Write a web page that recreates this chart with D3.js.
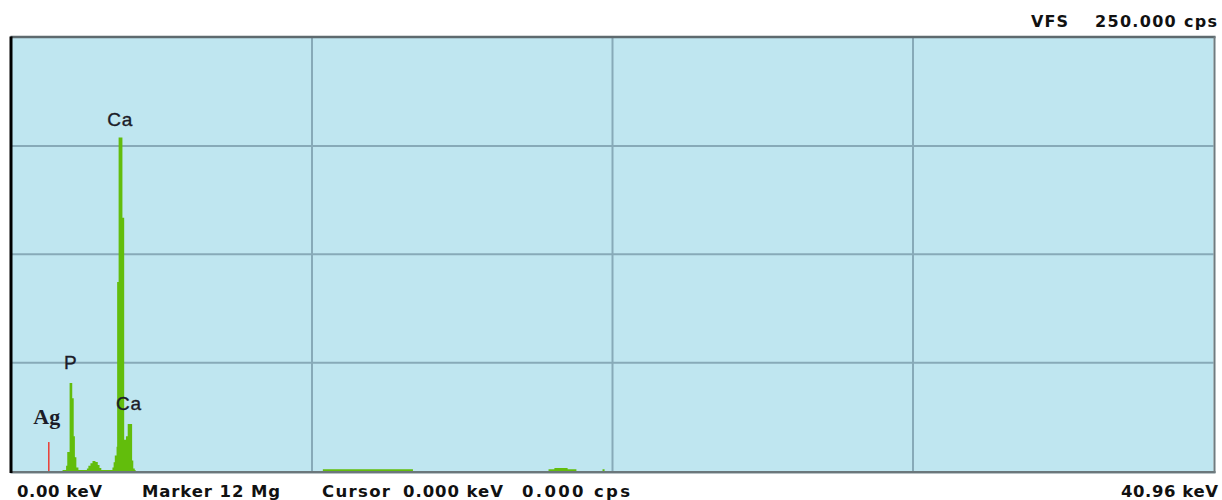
<!DOCTYPE html>
<html>
<head>
<meta charset="utf-8">
<script src="https://cdn.jsdelivr.net/npm/d3@7"></script>
<style>
  html, body { margin: 0; padding: 0; background: #ffffff; }
  svg { display: block; }
</style>
</head>
<body>
<svg id="chart" width="1222" height="500"></svg>
<script>
// EDS spectrum: energy (keV) vs count rate (cps), drawn as a stepped fill
const spectrumEnergy = [
  1.70, 1.74, 1.86, 1.90, 1.98, 2.07, 2.12, 2.16, 2.21, 2.28,
  2.57, 2.62, 2.69, 2.76, 2.86, 2.94, 3.00, 3.06,
  3.44, 3.48, 3.52, 3.58, 3.60, 3.65, 3.78, 3.84, 3.90, 3.96, 4.11, 4.15, 4.20, 4.23,
  10.61, 13.68,
  18.30, 18.50, 18.95, 19.25,
  20.14, 20.21
];
const spectrumCps = [
  0, 0.6, 3, 11, 50.8, 42, 20, 8, 2, 0.6,
  1.5, 3, 4.5, 5.8, 5.2, 3.5, 1.8, 0.6,
  2, 5, 9, 14, 109, 192.3, 146, 18, 20, 27.1, 6, 1.5, 0.6, 0,
  1.0, 0,
  1.0, 1.8, 1.0, 0,
  1.0, 0
];

// Silver marker line
const markerEnergy = [1.27];
const markerCps = [16.7];

// Element labels placed above their lines
const labelText = ["Ca", "P", "Ca", "Ag"];
const labelEnergy = [3.70, 2.02, 4.00, 1.20];
const labelCps = [199, 59, 35, 27];

// Scale extents and grid divisions
const energyMax = 40.96;
const cpsMax = 250;
const gridKeV = [10.24, 20.48, 30.72];
const gridCps = [62.5, 125, 187.5];

// Readout texts
const readouts = [
  { text: "0.00 keV",     x: 17,  len: 85 },
  { text: "Marker 12 Mg", x: 142, len: 138 },
  { text: "Cursor",       x: 322, len: 68 },
  { text: "0.000 keV",    x: 403, len: 100 },
  { text: "0.000 cps",    x: 522, len: 108 }
];

const svg = d3.select("#chart");
const plotLeft = 11.5, plotRight = 1213.5, plotTop = 37.5, plotBottom = 471;

const x = d3.scaleLinear().domain([0, energyMax]).range([plotLeft, plotRight]);
const y = d3.scaleLinear().domain([0, cpsMax]).range([plotBottom, plotTop]);

// Plot background
svg.append("rect")
  .attr("x", plotLeft).attr("y", plotTop)
  .attr("width", plotRight - plotLeft).attr("height", plotBottom - plotTop)
  .attr("fill", "#bfe6f0");

// Grid lines
svg.append("g").selectAll("line").data(gridKeV).join("line")
  .attr("x1", d => x(d)).attr("x2", d => x(d))
  .attr("y1", plotTop).attr("y2", plotBottom)
  .attr("stroke", "#87aab8").attr("stroke-width", 2);
svg.append("g").selectAll("line").data(gridCps).join("line")
  .attr("x1", plotLeft).attr("x2", plotRight)
  .attr("y1", d => y(d)).attr("y2", d => y(d))
  .attr("stroke", "#87aab8").attr("stroke-width", 2);

// Spectrum fill
const points = spectrumEnergy.map((e, i) => ({ e, c: spectrumCps[i] }));
const area = d3.area()
  .x(d => x(d.e))
  .y0(y(0))
  .y1(d => y(d.c))
  .curve(d3.curveStepAfter);
svg.append("path")
  .datum(points)
  .attr("d", area)
  .attr("fill", "#62bd0c");

// Marker line
svg.append("g").selectAll("line").data(markerEnergy).join("line")
  .attr("x1", d => x(d)).attr("x2", d => x(d))
  .attr("y1", y(0)).attr("y2", (d, i) => y(markerCps[i]))
  .attr("stroke", "#e8453c").attr("stroke-width", 1.6);

// Frame
svg.append("line").attr("x1", plotLeft - 1).attr("x2", plotRight + 2).attr("y1", plotTop - 0.5).attr("y2", plotTop - 0.5)
  .attr("stroke", "#5e6a6e").attr("stroke-width", 2.5);
svg.append("line").attr("x1", plotLeft - 1).attr("x2", plotRight + 2).attr("y1", plotBottom + 1).attr("y2", plotBottom + 1)
  .attr("stroke", "#6b777b").attr("stroke-width", 2);
svg.append("line").attr("x1", plotLeft - 1).attr("x2", plotRight + 2).attr("y1", plotBottom + 2.5).attr("y2", plotBottom + 2.5)
  .attr("stroke", "#b9c2c5").attr("stroke-width", 1);
svg.append("line").attr("x1", plotRight + 1).attr("x2", plotRight + 1).attr("y1", plotTop - 1).attr("y2", plotBottom + 2)
  .attr("stroke", "#6f7b7f").attr("stroke-width", 2);
svg.append("line").attr("x1", plotLeft - 0.5).attr("x2", plotLeft - 0.5).attr("y1", plotTop - 1).attr("y2", plotBottom + 2)
  .attr("stroke", "#000000").attr("stroke-width", 3);

// Element labels
svg.append("g").selectAll("text").data(labelText).join("text")
  .attr("x", (d, i) => x(labelEnergy[i]))
  .attr("y", (d, i) => y(labelCps[i]))
  .attr("text-anchor", "middle")
  .attr("font-family", (d, i) => i === 3 ? "Liberation Serif, serif" : "Liberation Sans, Arial, sans-serif")
  .attr("font-weight", (d, i) => i === 3 ? "bold" : "normal")
  .attr("font-size", (d, i) => i === 3 ? 22 : 19)
  .attr("letter-spacing", (d, i) => i === 3 ? 0 : 0.8)
  .attr("fill", "#1c1c28")
  .attr("stroke", "#1c1c28")
  .attr("stroke-width", (d, i) => i === 3 ? 0 : 0.35)
  .text(d => d);

// Readouts along the bottom
const readFont = "DejaVu Sans, Verdana, sans-serif";
svg.append("g").selectAll("text").data(readouts).join("text")
  .attr("x", d => d.x).attr("y", 497)
  .attr("font-family", readFont).attr("font-weight", "bold").attr("font-size", 16.5)
  .attr("textLength", d => d.len).attr("lengthAdjust", "spacing")
  .attr("fill", "#111")
  .text(d => d.text);

svg.append("text")
  .attr("x", 1121).attr("y", 497)
  .attr("font-family", readFont).attr("font-weight", "bold").attr("font-size", 16.5)
  .attr("textLength", 97).attr("lengthAdjust", "spacing")
  .attr("fill", "#111")
  .text(energyMax.toFixed(2) + " keV");

svg.append("text")
  .attr("x", 1031).attr("y", 27)
  .attr("font-family", readFont).attr("font-weight", "bold").attr("font-size", 16)
  .attr("textLength", 37).attr("lengthAdjust", "spacing")
  .attr("fill", "#111")
  .text("VFS");
svg.append("text")
  .attr("x", 1095).attr("y", 27)
  .attr("font-family", readFont).attr("font-weight", "bold").attr("font-size", 16)
  .attr("textLength", 122).attr("lengthAdjust", "spacing")
  .attr("fill", "#111")
  .text(cpsMax.toFixed(3) + " cps");
</script>
</body>
</html>
